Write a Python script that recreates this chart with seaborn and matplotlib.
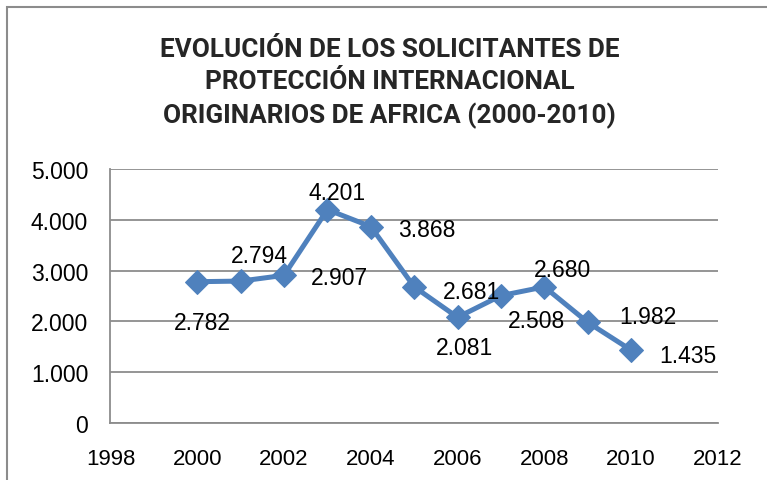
import matplotlib
matplotlib.use("Agg")
import matplotlib.pyplot as plt
import matplotlib.ticker as mticker
import seaborn as sns
import pandas as pd

# datos
anios = [2000, 2001, 2002, 2003, 2004, 2005, 2006, 2007, 2008, 2009, 2010]
solicitantes = [2782, 2794, 2907, 4201, 3868, 2681, 2081, 2508, 2680, 1982, 1435]
# desplazamiento de cada etiqueta (px) respecto a su punto
etiq_dx = [5, 19, 55, 10, 56, 57, 7, 36, 18, 60, 57]
etiq_dy = [-41, 26, -2, 17, -3, -5, -30, -25, 17, 6, -5]

titulo = ("EVOLUCIÓN DE LOS SOLICITANTES DE\n"
          "PROTECCIÓN INTERNACIONAL\n"
          "ORIGINARIOS DE AFRICA (2000-2010)")

AZUL = "#4F81BD"
GRIS = "#8C8C8C"


def miles(v, pos):
    return f"{int(v):,}".replace(",", ".")


sns.set_style("white")
plt.rcParams["font.family"] = ["Liberation Sans", "DejaVu Sans"]

df = pd.DataFrame({"anio": anios, "valor": solicitantes})

fig = plt.figure(figsize=(7.67, 4.81), dpi=100)
ax = fig.add_axes([0.144, 0.1185, 0.792, 0.528])

sns.lineplot(data=df, x="anio", y="valor", ax=ax, color=AZUL, linewidth=3.6,
             marker="D", markersize=12, markeredgecolor=AZUL)

for x, y, dx, dy in zip(anios, solicitantes, etiq_dx, etiq_dy):
    ax.annotate(miles(y, None), (x, y), xytext=(dx * 0.72, dy * 0.72),
                textcoords="offset points", ha="center", va="center",
                fontsize=16.5, color="black")

ax.set_xlim(1998, 2012)
ax.set_ylim(0, 5000)
ax.xaxis.set_major_locator(mticker.MultipleLocator(2))
ax.yaxis.set_major_locator(mticker.MultipleLocator(1000))
ax.yaxis.set_major_formatter(mticker.FuncFormatter(miles))
ax.set_xlabel("")
ax.set_ylabel("")
ax.grid(axis="y", color=GRIS, linewidth=1.3)
ax.set_axisbelow(True)
for lado in ["top", "right"]:
    ax.spines[lado].set_visible(False)
for lado in ["left", "bottom"]:
    ax.spines[lado].set_color(GRIS)
    ax.spines[lado].set_linewidth(1.3)
ax.tick_params(axis="both", colors=GRIS, labelcolor="black",
               length=6, width=1.3, direction="out")
ax.tick_params(axis="y", labelsize=16.5, pad=10)
ax.tick_params(axis="x", labelsize=16, pad=12)

fig.text(0.508, 0.827, titulo, ha="center", va="center", fontsize=18.8,
         fontweight="bold", linespacing=1.42, family=["Roboto", "DejaVu Sans"])

# marco del area del grafico
fig.patches.append(plt.Rectangle((7 / 767, -0.1), 1.2, 1.1 - 8 / 481,
                                 transform=fig.transFigure, fill=False,
                                 edgecolor=GRIS, linewidth=1.5))

fig.savefig("out.png", dpi=100)
